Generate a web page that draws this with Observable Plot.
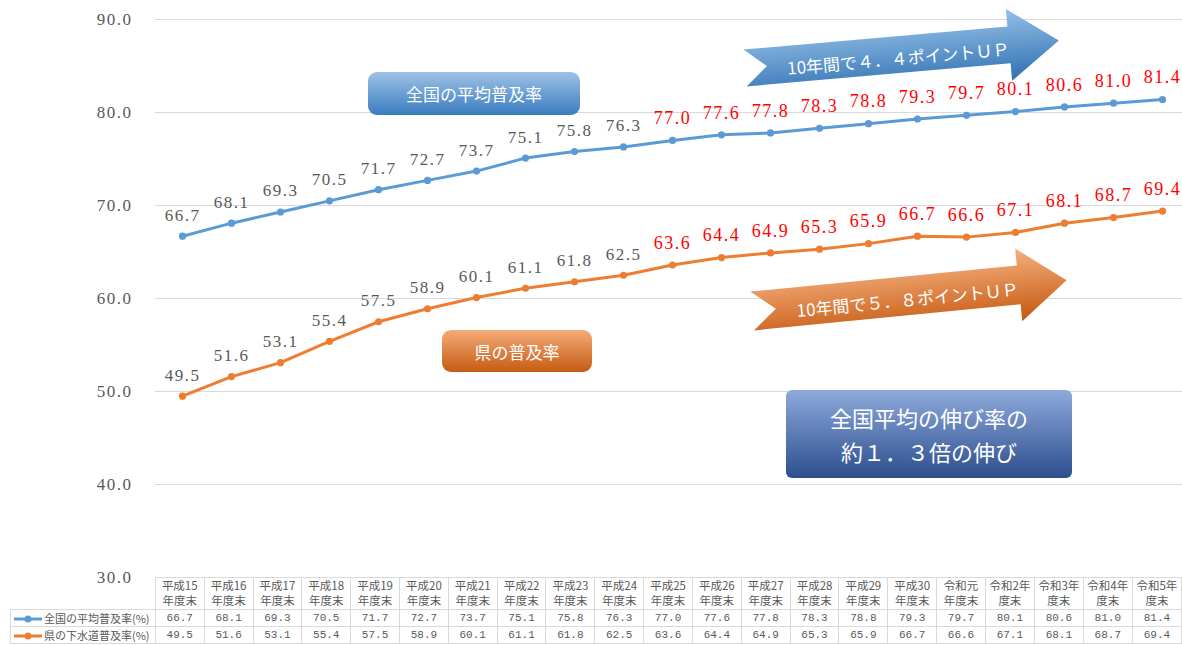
<!DOCTYPE html>
<html>
<head>
<meta charset="utf-8">
<script src="https://cdn.jsdelivr.net/npm/d3@7"></script>
<script src="https://cdn.jsdelivr.net/npm/@observablehq/plot@0.6"></script>
<style>
  html, body { margin: 0; padding: 0; background: #fff; overflow: hidden; }
  #wrap { position: relative; width: 1182px; height: 645px; overflow: hidden; }
  #wrap > svg { max-width: none !important; }
  table.dt { position: absolute; border-collapse: collapse; table-layout: fixed;
    font-family: "Noto Sans CJK JP", sans-serif; font-size: 11.5px; color: #595959; }
  table.dt td { border: 1px solid #d9d9d9; text-align: center; padding: 0; overflow: hidden; white-space: nowrap; }
  table.dt tr.hd td { height: 32px; line-height: 15px; border-top: none; }
  table.dt tr.hd td.blank { border: none; border-bottom: 1px solid #d9d9d9; }
  table.dt tr.rw td { height: 16px; line-height: 16px; font-family: "Liberation Mono", "DejaVu Sans Mono", monospace; font-size: 11px; }
  table.dt tr.rw td.lab { text-align: left; font-family: "Noto Sans CJK JP", sans-serif; font-size: 11px; }
</style>
</head>
<body>
<div id="wrap"></div>
<script>
// ---- data ----
const categories = ["平成15年度末","平成16年度末","平成17年度末","平成18年度末","平成19年度末","平成20年度末","平成21年度末","平成22年度末","平成23年度末","平成24年度末","平成25年度末","平成26年度末","平成27年度末","平成28年度末","平成29年度末","平成30年度末","令和元年度末","令和2年度末","令和3年度末","令和4年度末","令和5年度末"];
const headerLine1 = ["平成15","平成16","平成17","平成18","平成19","平成20","平成21","平成22","平成23","平成24","平成25","平成26","平成27","平成28","平成29","平成30","令和元","令和2年","令和3年","令和4年","令和5年"];
const headerLine2 = ["年度末","年度末","年度末","年度末","年度末","年度末","年度末","年度末","年度末","年度末","年度末","年度末","年度末","年度末","年度末","年度末","年度末","度末","度末","度末","度末"];
const nationalRate = [66.7,68.1,69.3,70.5,71.7,72.7,73.7,75.1,75.8,76.3,77.0,77.6,77.8,78.3,78.8,79.3,79.7,80.1,80.6,81.0,81.4];
const prefRate = [49.5,51.6,53.1,55.4,57.5,58.9,60.1,61.1,61.8,62.5,63.6,64.4,64.9,65.3,65.9,66.7,66.6,67.1,68.1,68.7,69.4];
const seriesNames = ["全国の平均普及率(%)", "県の下水道普及率(%)"];
const yTicks = [30, 40, 50, 60, 70, 80, 90];
const highlightFrom = 10; // 平成25年度末 以降は赤字
const boxLabels = ["全国の平均普及率", "県の普及率"];
const arrowLabels = ["10年間で４．４ポイントＵＰ", "10年間で５．８ポイントＵＰ"];
const noteLines = ["全国平均の伸び率の", "約１．３倍の伸び"];

const BLUE = "#5b9bd5", ORANGE = "#ed7d31", GRAY = "#595959";
const W = 1188, H = 645, ML = 155, MR = 0, MT = 19, MB = 68;

const rows = categories.map((c, i) => ({cat: c, i, nat: nationalRate[i], pref: prefRate[i]}));
const numFont = "'Liberation Serif', 'DejaVu Serif', serif";

function annotations(index, scales, values, dims) {
  const svg = d3.create("svg:g").attr("class", "annot");
  const defs = svg.append("defs");
  const grad = (id, c1, c2) => {
    const g = defs.append("linearGradient").attr("id", id).attr("x1", 0).attr("y1", 0).attr("x2", 0).attr("y2", 1);
    g.append("stop").attr("offset", "0%").attr("stop-color", c1);
    g.append("stop").attr("offset", "100%").attr("stop-color", c2);
  };
  grad("gBlue", "#9dc3e6", "#3a7bbf");
  grad("gOrange", "#f4ac78", "#c65b13");
  grad("gNavy", "#8eaadc", "#2c4e8e");
  grad("gArrB", "#94c0e8", "#2f70b0");
  grad("gArrO", "#f5b07e", "#c4570f");
  const jp = "Noto Sans CJK JP, sans-serif";

  const box = (x, y, w, h, r, fill, lines, fs, lh) => {
    svg.append("rect").attr("x", x).attr("y", y).attr("width", w).attr("height", h)
      .attr("rx", r).attr("fill", `url(#${fill})`);
    const cy = y + h / 2 - (lines.length - 1) * lh / 2;
    lines.forEach((t, k) => svg.append("text").attr("x", x + w / 2).attr("y", cy + k * lh)
      .attr("text-anchor", "middle").attr("dominant-baseline", "central")
      .attr("fill", "#fff").attr("font-family", jp).attr("font-size", fs).text(t));
  };
  box(368, 72, 212, 43, 9, "gBlue", [boxLabels[0]], 17, 0);
  box(442, 330, 150, 42, 9, "gOrange", [boxLabels[1]], 17, 0);
  box(786, 390, 286, 88, 6, "gNavy", noteLines, 22, 34);

  const arrow = (tx, ty, ang, L, sh, hh, hl, notch, fill, label) => {
    const g = svg.append("g").attr("transform", `translate(${tx},${ty}) rotate(${ang})`);
    const b = L - hl;
    g.append("path").attr("d",
      `M0,${-sh} L${b},${-sh} L${b},${-hh} L${L},0 L${b},${hh} L${b},${sh} L0,${sh} L${notch},0 Z`)
      .attr("fill", `url(#${fill})`);
    g.append("text").attr("x", (notch + b) / 2 + 10).attr("y", 3)
      .attr("text-anchor", "middle").attr("dominant-baseline", "central")
      .attr("fill", "#fff").attr("font-family", jp).attr("font-size", 17).text(label);
  };
  arrow(745, 68, -5, 315, 18.5, 36, 50, 22, "gArrB", arrowLabels[0]);
  arrow(752, 311, -5.6, 316, 19.5, 36.5, 48, 24, "gArrO", arrowLabels[1]);
  return svg.node();
}

const chart = Plot.plot({
  width: W, height: H,
  marginLeft: ML, marginRight: MR, marginTop: MT, marginBottom: MB,
  style: {background: "transparent", overflow: "visible", maxWidth: "none"},
  x: {type: "point", domain: categories, padding: 0.5, axis: null},
  y: {domain: [30, 90], axis: null},
  marks: [
    Plot.ruleY(yTicks, {stroke: "#d9d9d9", strokeWidth: 1}),
    Plot.text(yTicks, {y: d => d, text: d => d.toFixed(1), frameAnchor: "left", textAnchor: "end", dx: -23,
      fill: GRAY, fontSize: 17}),
    Plot.line(rows, {x: "cat", y: "nat", stroke: BLUE, strokeWidth: 3}),
    Plot.dot(rows, {x: "cat", y: "nat", fill: BLUE, r: 3.6}),
    Plot.line(rows, {x: "cat", y: "pref", stroke: ORANGE, strokeWidth: 3}),
    Plot.dot(rows, {x: "cat", y: "pref", fill: ORANGE, r: 3.6}),
    Plot.text(rows.filter(d => d.i < highlightFrom), {x: "cat", y: "nat", text: d => d.nat.toFixed(1), dy: -21,
      fill: GRAY, fontSize: 17}),
    Plot.text(rows.filter(d => d.i >= highlightFrom), {x: "cat", y: "nat", text: d => d.nat.toFixed(1), dy: -22,
      fill: "#ff0000", fontSize: 18}),
    Plot.text(rows.filter(d => d.i < highlightFrom), {x: "cat", y: "pref", text: d => d.pref.toFixed(1), dy: -21,
      fill: GRAY, fontSize: 17}),
    Plot.text(rows.filter(d => d.i >= highlightFrom), {x: "cat", y: "pref", text: d => d.pref.toFixed(1), dy: -22,
      fill: "#ff0000", fontSize: 18}),
    annotations
  ]
});

// serif numerals with the wide spacing of the original
d3.select(chart).selectAll("text").filter(function () { return !this.closest(".annot"); })
  .style("font-family", numFont).style("letter-spacing", "1.5px");

const wrap = document.getElementById("wrap");
wrap.appendChild(chart);

// ---- data table below the axis ----
const step = (W - ML - MR) / categories.length;
const yS = chart.scale("y");
const tableTop = yS.apply(30);
const tbl = document.createElement("table");
tbl.className = "dt";
tbl.style.left = "10px";
tbl.style.top = tableTop + "px";
let html = `<colgroup><col style="width:${ML - 10}px">` + categories.map(() => `<col style="width:${step}px">`).join("") + `</colgroup>`;
html += `<tr class="hd"><td class="blank"></td>` + categories.map((c, i) => `<td>${headerLine1[i]}<br>${headerLine2[i]}</td>`).join("") + `</tr>`;
const marker = col => `<svg width="30" height="10" style="vertical-align:-1px;margin:0 1px 0 2px"><line x1="1" y1="5" x2="29" y2="5" stroke="${col}" stroke-width="3"/><circle cx="15" cy="5" r="3.5" fill="${col}"/></svg>`;
[[nationalRate, BLUE], [prefRate, ORANGE]].forEach(([vals, col], k) => {
  html += `<tr class="rw"><td class="lab">${marker(col)}${seriesNames[k]}</td>` + vals.map(v => `<td>${v.toFixed(1)}</td>`).join("") + `</tr>`;
});
tbl.innerHTML = html;
wrap.appendChild(tbl);
</script>
</body>
</html>
